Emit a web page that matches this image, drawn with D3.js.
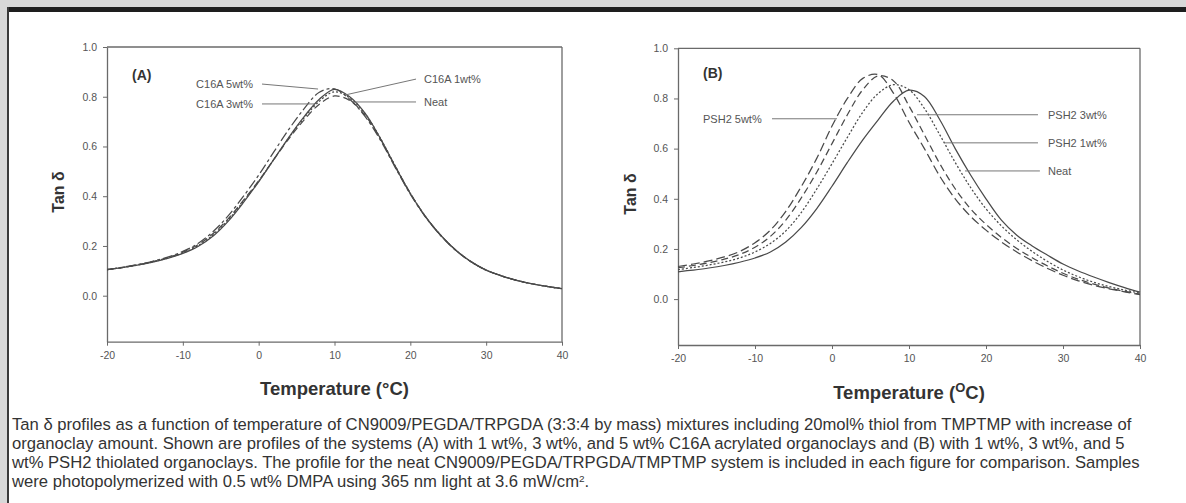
<!DOCTYPE html>
<html><head><meta charset="utf-8">
<script src="https://cdn.jsdelivr.net/npm/d3@7"></script>
<style>body{margin:0;background:#fff}svg{display:block}</style>
</head><body>
<svg id="c" width="1186" height="503"></svg>
<script>
// ---------- data ----------
const temperatures = [-20,-18,-16,-14,-12,-10,-8,-6,-4,-2,0,2,4,6,8,10,12,14,16,18,20,22,24,26,28,30,32,34,36,38,40];
const xTicks = [-20,-10,0,10,20,30,40];
const yTicks = [0.0,0.2,0.4,0.6,0.8,1.0];

// Panel (A): C16A acrylated organoclay
const neatA  = [.105,.113,.123,.135,.150,.170,.198,.240,.300,.375,.458,.548,.638,.720,.790,.830,.800,.735,.635,.520,.410,.318,.243,.183,.137,.103,.080,.062,.048,.037,.028];
const c16a1  = [.105,.113,.123,.135,.151,.172,.201,.245,.305,.380,.460,.548,.636,.715,.782,.820,.795,.733,.636,.522,.412,.318,.243,.183,.137,.103,.080,.062,.048,.037,.028];
const c16a3  = [.105,.113,.124,.137,.153,.175,.205,.250,.310,.384,.462,.548,.632,.707,.770,.803,.785,.727,.633,.521,.412,.318,.243,.183,.137,.103,.080,.062,.048,.037,.028];
const c16a5  = [.105,.114,.125,.138,.155,.178,.210,.258,.322,.400,.485,.578,.670,.752,.818,.832,.790,.722,.628,.516,.408,.316,.242,.182,.136,.103,.080,.062,.048,.037,.028];

// Panel (B): PSH2 thiolated organoclay
const neatB  = [.109,.116,.124,.134,.147,.164,.188,.228,.285,.360,.450,.545,.635,.715,.790,.833,.808,.715,.600,.495,.400,.315,.255,.212,.175,.140,.112,.088,.066,.046,.028];
const psh21  = [.118,.126,.136,.148,.164,.188,.222,.272,.345,.438,.540,.645,.745,.820,.855,.835,.760,.655,.545,.445,.360,.292,.236,.190,.150,.116,.089,.067,.050,.036,.024];
const psh23  = [.125,.134,.145,.159,.178,.207,.250,.315,.403,.505,.620,.735,.835,.890,.870,.770,.655,.540,.440,.360,.298,.246,.202,.165,.132,.103,.079,.060,.044,.031,.020];
const psh25  = [.130,.140,.152,.168,.190,.225,.275,.350,.448,.560,.690,.800,.880,.895,.820,.705,.600,.490,.400,.330,.275,.228,.188,.153,.122,.095,.073,.055,.041,.029,.018];

const seriesNamesA = ["Neat","C16A 1wt%","C16A 3wt%","C16A 5wt%"];
const seriesNamesB = ["Neat","PSH2 1wt%","PSH2 3wt%","PSH2 5wt%"];

const captionLines = [
  "Tan \u03b4 profiles as a function of temperature of CN9009/PEGDA/TRPGDA (3:3:4 by mass) mixtures including 20mol% thiol from TMPTMP with increase of",
  "organoclay amount. Shown are profiles of the systems (A) with 1 wt%, 3 wt%, and 5 wt% C16A acrylated organoclays and (B) with 1 wt%, 3 wt%, and 5",
  "wt% PSH2 thiolated organoclays. The profile for the neat CN9009/PEGDA/TRPGDA/TMPTMP system is included in each figure for comparison. Samples",
  "were photopolymerized with 0.5 wt% DMPA using 365 nm light at 3.6 mW/cm"
];

// ---------- drawing ----------
const svg = d3.select("#c");
const FONT = "'Liberation Sans', Arial, Helvetica, sans-serif";

// page frame
svg.append("rect").attr("x",0).attr("y",0).attr("width",1186).attr("height",503).attr("fill","#fff");
svg.append("rect").attr("x",0).attr("y",0).attr("width",1186).attr("height",7).attr("fill","#d8d8d8");
svg.append("rect").attr("x",0).attr("y",0).attr("width",7).attr("height",503).attr("fill","#d8d8d8");
svg.append("rect").attr("x",7).attr("y",7).attr("width",1179).attr("height",5).attr("fill","#1e1e1e");
svg.append("rect").attr("x",7).attr("y",7).attr("width",2).attr("height",496).attr("fill","#3a3a3a");

const stylesA = {"Neat":"", "1":"2,2", "3":"7,4", "5":"10,3,3,3"};
const stylesB = {"Neat":"", "1":"2,2", "3":"7,4", "5":"9,4"};

function panel(cfg){
  const x = d3.scaleLinear().domain([-20,40]).range([cfg.left,cfg.right]);
  const y = d3.scaleLinear().domain([cfg.ymin,1.0]).range([cfg.bottom,cfg.top]);
  const g = svg.append("g");
  const axisColor = "#6a6a6a";

  g.append("line").attr("x1",cfg.left).attr("x2",cfg.right).attr("y1",y(1.0)).attr("y2",y(1.0))
    .attr("stroke",axisColor).attr("stroke-width",1.3);
  g.append("line").attr("x1",cfg.right).attr("x2",cfg.right).attr("y1",y(1.0)).attr("y2",y(cfg.ymin))
    .attr("stroke",axisColor).attr("stroke-width",1.3);

  const ax = g.append("g").attr("transform",`translate(0,${y(cfg.ymin)})`)
    .call(d3.axisBottom(x).tickValues(xTicks).tickSize(4).tickSizeOuter(0).tickPadding(6).tickFormat(d=>String(d)));
  const ay = g.append("g").attr("transform",`translate(${x(-20)},0)`)
    .call(d3.axisLeft(y).tickValues(yTicks).tickSize(4).tickSizeOuter(0).tickPadding(6).tickFormat(d3.format(".1f")));
  [ax,ay].forEach(a=>{
    a.select(".domain").attr("stroke",axisColor).attr("stroke-width",1.3);
    a.selectAll(".tick line").attr("stroke",axisColor).attr("stroke-width",1);
    a.selectAll(".tick text").attr("fill","#555").attr("font-family",FONT).attr("font-size",10.5);
  });

  const line = d3.line().x((d,i)=>x(temperatures[i])).y(d=>y(d)).curve(d3.curveCatmullRom.alpha(0.5));
  cfg.series.forEach(s=>{
    g.append("path").datum(s.values).attr("d",line).attr("fill","none")
      .attr("stroke","#4a4a4a").attr("stroke-width",1.25)
      .attr("stroke-dasharray",s.dash);
  });

  cfg.notes.forEach(n=>{
    g.append("line").attr("x1",x(n.l[0])).attr("y1",y(n.l[1])).attr("x2",x(n.l[2])).attr("y2",y(n.l[3]))
      .attr("stroke","#777").attr("stroke-width",1);
    g.append("text").attr("x",x(n.t[0])).attr("y",y(n.t[1])).attr("dy","0.35em")
      .attr("text-anchor",n.anchor).attr("font-family",FONT).attr("font-size",11).attr("fill","#555")
      .text(n.text);
  });

  g.append("text").attr("x",x(cfg.tag[0])).attr("y",y(cfg.tag[1])).attr("dy","0.35em")
    .attr("font-family",FONT).attr("font-weight","bold").attr("font-size",14).attr("fill","#333").text(cfg.tagText);

  g.append("text").attr("transform",`translate(${cfg.yLabelX},${cfg.yLabelY}) rotate(-90)`)
    .attr("text-anchor","middle").attr("font-family",FONT).attr("font-weight","bold").attr("font-size",16).attr("fill","#333")
    .text("Tan \u03b4");
  const xt = g.append("text").attr("x",(cfg.left+cfg.right)/2+cfg.xLabelDx).attr("y",cfg.xLabelY)
    .attr("text-anchor","middle").attr("font-family",FONT).attr("font-weight","bold").attr("font-size",18.5).attr("fill","#333");
  if(cfg.superO){
    xt.append("tspan").text("Temperature (");
    xt.append("tspan").attr("dy",-7).attr("font-size",13).text("O");
    xt.append("tspan").attr("dy",7).text("C)");
  } else xt.text("Temperature (\u00b0C)");
}

panel({
  left:107, right:562, top:47, bottom:341.7, ymin:-0.185,
  series:[
    {values:neatA, dash:stylesA["Neat"]},
    {values:c16a1, dash:stylesA["1"]},
    {values:c16a3, dash:stylesA["3"]},
    {values:c16a5, dash:stylesA["5"]}
  ],
  notes:[
    {text:seriesNamesA[3], anchor:"end",   t:[-0.75,0.851], l:[0.44,0.851,7.83,0.831]},
    {text:seriesNamesA[2], anchor:"end",   t:[-0.75,0.771], l:[0.44,0.771,7.43,0.771]},
    {text:seriesNamesA[1], anchor:"start", t:[21.8,0.871],  l:[11.39,0.807,20.75,0.871]},
    {text:seriesNamesA[0], anchor:"start", t:[21.8,0.779],  l:[12.7,0.779,20.75,0.779]}
  ],
  tag:[-16.7,0.888], tagText:"(A)",
  yLabelX:64, yLabelY:192, xLabelDx:0, xLabelY:395, superO:false
});

panel({
  left:678, right:1140, top:48.3, bottom:345, ymin:-0.183,
  series:[
    {values:neatB, dash:stylesB["Neat"]},
    {values:psh21, dash:stylesB["1"]},
    {values:psh23, dash:stylesB["3"]},
    {values:psh25, dash:stylesB["5"]}
  ],
  notes:[
    {text:seriesNamesB[3], anchor:"start", t:[-16.75,0.719], l:[-7.79,0.719,0.65,0.719]},
    {text:seriesNamesB[2], anchor:"start", t:[28.05,0.735],  l:[11.04,0.735,26.75,0.735]},
    {text:seriesNamesB[1], anchor:"start", t:[28.05,0.623],  l:[14.68,0.623,26.75,0.623]},
    {text:seriesNamesB[0], anchor:"start", t:[28.05,0.511],  l:[17.27,0.511,27.0,0.511]}
  ],
  tag:[-16.75,0.902], tagText:"(B)",
  yLabelX:636, yLabelY:194, xLabelDx:0, xLabelY:399, superO:true
});

// caption
const cap = svg.append("g");
const probe = cap.append("text").attr("font-family",FONT).attr("font-size",14).text(captionLines[0]);
const w = probe.node().getComputedTextLength();
probe.remove();
const capSize = 14*1120/w;
captionLines.forEach((t,i)=>{
  const tx = cap.append("text").attr("x",12).attr("y",430+i*19)
    .attr("font-family",FONT).attr("font-size",capSize).attr("fill","#333").text(t);
  if(i===captionLines.length-1){
    tx.append("tspan").attr("dy",-5).attr("font-size",capSize*0.6).text("2");
    tx.append("tspan").attr("dy",5).text(".");
  }
});
</script>
</body></html>
